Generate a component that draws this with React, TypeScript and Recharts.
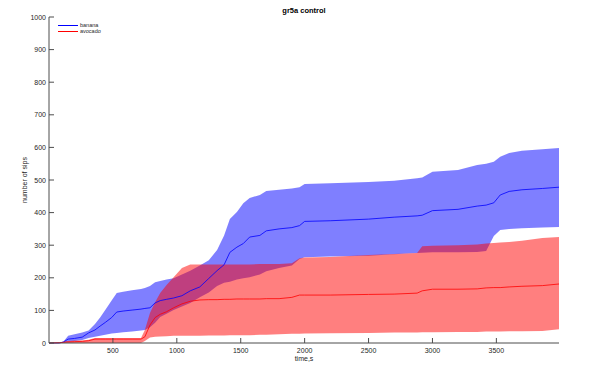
import React from "react";
import {
  ComposedChart,
  Area,
  Line,
  XAxis,
  YAxis,
} from "recharts";

const time = [
  0, 80, 112, 150, 200, 260, 310, 360, 400, 440, 490, 530, 580, 650, 720, 750,
  790, 830, 870, 920, 975, 1040, 1105, 1180, 1250, 1315, 1370, 1415, 1470,
  1520, 1570, 1650, 1700, 1800, 1900, 1960, 2000, 2200, 2500, 2700, 2880, 2920,
  3000, 3200, 3350, 3420, 3480, 3530, 3600, 3700, 3860, 3990,
];

const bananaMean = [
  0, 0, 3, 12, 14, 18, 31, 40, 52, 63, 78, 95, 98, 101, 104, 106, 108, 123,
  130, 134, 138, 145, 160, 172, 198, 222, 240, 278, 294, 305, 325, 330, 344,
  350, 354, 360, 373, 375, 380, 386, 390, 392, 406, 410, 420, 423, 430, 454,
  465, 470, 474, 478,
];
const bananaUpper = [
  0, 0, 4, 22, 27, 32, 38, 58, 78, 101, 130, 153, 157, 162, 166, 169, 175, 186,
  190, 195, 199, 210, 222, 238, 254, 285, 330, 380, 402, 429, 445, 454, 466,
  470, 474, 478, 488, 490, 494, 498, 505, 508, 525, 531, 546, 550, 556, 571,
  583, 590, 594, 598,
];
const bananaLower = [
  0, 0, 2, 4, 6, 9, 15, 19, 22, 25, 29, 31, 33, 35, 38, 40, 48, 62, 80, 90,
  101, 112, 123, 140, 155, 175, 185, 188, 195, 199, 202, 210, 220, 230, 238,
  258, 263, 265, 268, 272, 276, 277, 278, 278, 279, 282, 328, 347, 350, 352,
  354, 356,
];

const avocadoMean = [
  0, 1, 2, 3, 4, 5, 7, 12, 12, 12, 12, 12, 12, 12, 12, 19, 55, 78, 88, 96,
  108, 120, 128, 132, 133, 133, 134, 134, 135, 135, 135, 135, 136, 136, 140,
  147, 147, 147, 149, 150, 153, 160, 165, 165, 166, 169, 170, 170, 172, 174,
  176, 181,
];
const avocadoUpper = [
  0, 2, 4, 6, 8, 8, 10, 15, 15, 15, 15, 15, 15, 15, 15, 40, 92, 125, 153, 178,
  202, 230, 241, 241, 241, 241, 241, 241, 241, 241, 241, 242, 242, 242, 245,
  260, 262, 264, 270, 273, 276, 297, 298, 300, 302, 305, 307, 308, 310, 314,
  322, 325,
];
const avocadoLower = [
  0, 0, 0, 0, 0, 0, 0, 0, 0, 0, 0, 0, 0, 0, 0, 6, 17, 19, 20, 21, 22, 22, 22,
  22, 23, 23, 23, 24, 24, 24, 24, 25, 25, 27, 28, 28, 29, 30, 31, 32, 32, 33,
  33, 34, 34, 35, 35, 35, 36, 36, 37, 42,
];

const xTicks = [500, 1000, 1500, 2000, 2500, 3000, 3500];
const yTicks = [0, 100, 200, 300, 400, 500, 600, 700, 800, 900, 1000];
const legendNames = ["banana", "avocado"];
const legendColors = ["#0000ff", "#ff0000"];

const data = time.map((t, i) => ({
  t,
  bananaMean: bananaMean[i],
  bananaBand: [bananaLower[i], bananaUpper[i]],
  avocadoMean: avocadoMean[i],
  avocadoBand: [avocadoLower[i], avocadoUpper[i]],
}));

const FONT = "'Liberation Sans', Arial, sans-serif";
const AXIS = "#4d4d4d";
const TEXT = "#262626";

const XTick = (props: any) => {
  const { x, y, payload } = props;
  return (
    <g>
      <line x1={x} x2={x} y1={y} y2={y - 5} stroke={AXIS} strokeWidth={1} />
      <text x={x} y={y + 9.5} textAnchor="middle" fontSize={7} fill={TEXT} fontFamily={FONT}>
        {payload.value}
      </text>
    </g>
  );
};

const YTick = (props: any) => {
  const { x, y, payload } = props;
  return (
    <g>
      <line x1={x} x2={x + 5} y1={y} y2={y} stroke={AXIS} strokeWidth={1} />
      <text x={x - 3} y={y + 2.5} textAnchor="end" fontSize={7} fill={TEXT} fontFamily={FONT}>
        {payload.value}
      </text>
    </g>
  );
};

export default function App() {
  return (
    <div style={{ position: "absolute", left: 0, top: 0, width: 600, height: 379, background: "#fff" }}>
      <ComposedChart
        width={600}
        height={379}
        data={data}
        margin={{ top: 17, right: 41, bottom: 6, left: 0 }}
      >
        <text x={304} y={13} textAnchor="middle" fontSize={7.5} fontWeight="bold" fill="#000" fontFamily={FONT}>
          gr5a control
        </text>
        <text
          x={27}
          y={180}
          textAnchor="middle"
          fontSize={7}
          fill={TEXT}
          fontFamily={FONT}
          transform="rotate(-90 27 180)"
        >
          number of sips
        </text>
        <text x={304} y={361} textAnchor="middle" fontSize={7} fill={TEXT} fontFamily={FONT}>
          time,s
        </text>
        {legendNames.map((n, i) => (
          <g key={n}>
            <line
              x1={58}
              x2={78}
              y1={25.5 + i * 6}
              y2={25.5 + i * 6}
              stroke={legendColors[i]}
              strokeWidth={1}
            />
            <text x={80} y={27.3 + i * 6} fontSize={5.5} fill={TEXT} fontFamily={FONT}>
              {n}
            </text>
          </g>
        ))}
        <XAxis
          dataKey="t"
          type="number"
          domain={[0, 3990]}
          ticks={xTicks}
          height={30}
          tickSize={0}
          tickMargin={0}
          tick={<XTick />}
          axisLine={{ stroke: AXIS }}
          tickLine={false}
          interval={0}
        />
        <YAxis
          type="number"
          domain={[0, 1000]}
          ticks={yTicks}
          width={49}
          tickSize={0}
          tickMargin={0}
          tick={<YTick />}
          axisLine={{ stroke: AXIS }}
          tickLine={false}
          interval={0}
        />
        <Area
          dataKey="bananaBand"
          type="linear"
          stroke="none"
          fill="#0000ff"
          fillOpacity={0.5}
          isAnimationActive={false}
        />
        <Area
          dataKey="avocadoBand"
          type="linear"
          stroke="none"
          fill="#ff0000"
          fillOpacity={0.5}
          isAnimationActive={false}
        />
        <Line
          dataKey="bananaMean"
          type="linear"
          stroke="#0000ff"
          strokeWidth={0.8}
          dot={false}
          isAnimationActive={false}
        />
        <Line
          dataKey="avocadoMean"
          type="linear"
          stroke="#ff0000"
          strokeWidth={0.8}
          dot={false}
          isAnimationActive={false}
        />
      </ComposedChart>
    </div>
  );
}
